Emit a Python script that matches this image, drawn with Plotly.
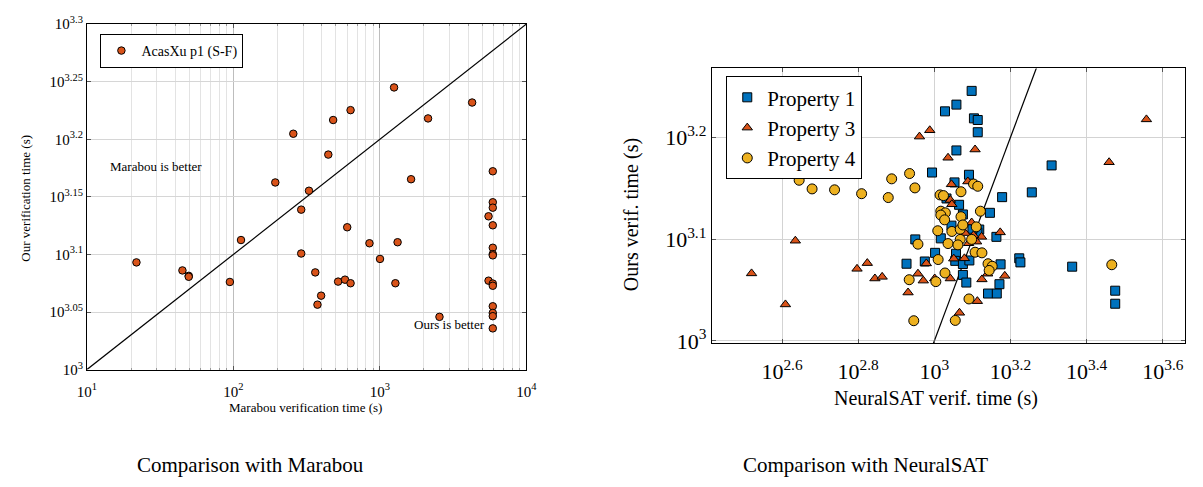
import numpy as np
import plotly.graph_objects as go

# ---------- Data (log10 of seconds) ----------
# Left: Marabou vs ours (AcasXu p1 (S-F))
marabou_log = [1.338, 1.652, 1.695, 1.695, 1.976, 2.052, 2.286, 2.409, 2.463, 2.463,
               2.516, 2.648, 2.681, 2.800, 3.097, 3.329, 3.213, 3.630, 3.771, 3.771,
               3.771, 3.742, 3.771, 2.777, 2.929, 3.121, 3.001, 3.771, 3.771, 3.771,
               2.559, 2.715, 2.762, 2.800, 3.106, 3.742, 3.771, 3.771, 2.599, 2.574,
               3.407, 3.771, 3.771, 3.771, 3.771]
ours_m_log = [3.0931, 3.0861, 3.0814, 3.0806, 3.0761, 3.1125, 3.1625, 3.2048, 3.1389, 3.1008,
              3.1553, 3.1867, 3.2167, 3.2253, 3.2450, 3.2181, 3.1653, 3.2319, 3.1722, 3.1453,
              3.1406, 3.1331, 3.1253, 3.1236, 3.1097, 3.1106, 3.0961, 3.1058, 3.1003, 3.0992,
              3.0844, 3.0764, 3.0781, 3.0750, 3.0750, 3.0772, 3.0747, 3.0728, 3.0642, 3.0564,
              3.0458, 3.0550, 3.0492, 3.0464, 3.0358]

# Right: NeuralSAT vs ours
p1_x = [3.098, 3.058, 3.028, 3.104, 3.114, 3.114, 3.058, 2.994, 3.091, 3.308, 3.256, 3.178,
        3.053, 3.065, 3.032, 3.075, 3.146, 3.045, 3.118, 3.113, 2.950, 3.017, 3.163, 3.100,
        3.002, 3.057, 2.927, 2.975, 3.055, 3.075, 3.092, 3.174, 3.223, 3.226, 3.362, 3.475,
        3.475, 3.075, 3.084, 3.171, 3.141, 3.164]
p1_y = [3.2456, 3.2321, 3.2255, 3.2186, 3.2170, 3.2050, 3.1871, 3.1654, 3.1632, 3.1724, 3.1459, 3.1412,
        3.1557, 3.1337, 3.1399, 3.1242, 3.1258, 3.1132, 3.1094, 3.1063, 3.0997, 3.1007, 3.1022, 3.1101,
        3.0865, 3.0856, 3.0758, 3.0780, 3.0786, 3.0755, 3.0790, 3.0752, 3.0811, 3.0771, 3.0729, 3.0493,
        3.0365, 3.0648, 3.0573, 3.0557, 3.0465, 3.0465]

p3_x = [3.557, 3.459, 2.988, 2.961, 3.107, 3.036, 3.045, 3.088, 3.042, 3.046, 3.098, 3.173,
        3.081, 3.124, 2.635, 2.520, 2.609, 2.797, 2.824, 2.844, 2.863, 3.103, 3.090, 3.111,
        3.051, 3.079, 2.979, 2.957, 2.971, 3.001, 3.042, 2.931, 3.125, 3.140, 3.185, 3.113, 3.066]
p3_y = [3.2176, 3.1755, 3.2069, 3.2007, 3.1880, 3.1799, 3.1538, 3.1566, 3.1384, 3.1342, 3.1163, 3.1066,
        3.1059, 3.1022, 3.0984, 3.0663, 3.0358, 3.0708, 3.0764, 3.0613, 3.0629, 3.1038, 3.0959, 3.0975,
        3.0808, 3.0811, 3.0761, 3.0660, 3.0592, 3.0613, 3.0613, 3.0475, 3.0604, 3.0660, 3.0639, 3.0390, 3.0276]

p4_x = [2.645, 2.679, 2.738, 2.809, 2.888, 2.935, 2.949, 2.879, 3.015, 3.024, 3.070, 3.103,
        3.114, 3.121, 3.017, 3.029, 3.017, 3.027, 3.070, 3.009, 3.046, 3.068, 3.075, 3.110,
        3.098, 3.068, 2.957, 3.036, 3.062, 3.107, 3.125, 3.010, 3.028, 2.934, 3.004, 3.141,
        3.152, 3.144, 3.091, 2.946, 3.055, 3.466]
p4_y = [3.1578, 3.1493, 3.1484, 3.1446, 3.1592, 3.1644, 3.1503, 3.1408, 3.1434, 3.1427, 3.1465, 3.1541,
        3.1519, 3.1274, 3.1274, 3.1258, 3.1236, 3.1189, 3.1220, 3.1082, 3.1075, 3.1097, 3.1139, 3.1120,
        3.0997, 3.0997, 3.0950, 3.0956, 3.0943, 3.0871, 3.0865, 3.0799, 3.0667, 3.0601, 3.0582, 3.0758,
        3.0733, 3.0692, 3.0412, 3.0198, 3.0201, 3.0748]

left_xticks = [1, 2, 3, 4]
left_yticks = [3.0, 3.05, 3.1, 3.15, 3.2, 3.25, 3.3]
right_xticks = [2.6, 2.8, 3.0, 3.2, 3.4, 3.6]
right_yticks = [3.0, 3.1, 3.2]

def lbl(v):
    s = ("%.2f" % v).rstrip("0").rstrip(".")
    return "10<sup>" + s + "</sup>"

W, H = 1203, 487
FONT = "Liberation Serif"
ORANGE = "#D95319"
BLUE = "#0072BD"
YELLOW = "#EDB120"

def px(x):
    return x / W

def py(y):
    return 1 - y / H

p = lambda a: 10 ** np.array(a, dtype=float)

fig = go.Figure()

# left diagonal (corner to corner)
fig.add_trace(go.Scatter(x=p([1, 4]), y=p([3.0, 3.3]), mode="lines",
                         line=dict(color="black", width=1.2), showlegend=False,
                         xaxis="x", yaxis="y", hoverinfo="skip"))
fig.add_trace(go.Scatter(x=p(marabou_log), y=p(ours_m_log), mode="markers",
                         name="AcasXu p1 (S-F)",
                         marker=dict(symbol="circle", size=7.5, color=ORANGE,
                                     line=dict(color="black", width=1)),
                         xaxis="x", yaxis="y", legend="legend"))

# right diagonal y = x
fig.add_trace(go.Scatter(x=p([2.3, 3.8]), y=p([2.3, 3.8]), mode="lines",
                         line=dict(color="black", width=1.2), showlegend=False,
                         xaxis="x2", yaxis="y2", hoverinfo="skip"))
fig.add_trace(go.Scatter(x=p(p1_x), y=p(p1_y), mode="markers", name="Property 1",
                         marker=dict(symbol="square", size=9, color=BLUE,
                                     line=dict(color="black", width=1)),
                         xaxis="x2", yaxis="y2", legend="legend2"))
fig.add_trace(go.Scatter(x=p(p3_x), y=p(p3_y), mode="markers", name="Property 3",
                         marker=dict(symbol="triangle-up", size=9, color=ORANGE,
                                     line=dict(color="black", width=1)),
                         xaxis="x2", yaxis="y2", legend="legend2"))
fig.add_trace(go.Scatter(x=p(p4_x), y=p(p4_y), mode="markers", name="Property 4",
                         marker=dict(symbol="circle", size=10, color=YELLOW,
                                     line=dict(color="black", width=1)),
                         xaxis="x2", yaxis="y2", legend="legend2"))

common = dict(showline=True, linecolor="black", linewidth=1, mirror="allticks",
              ticks="inside", ticklen=4, tickcolor="#555", zeroline=False)

def ann(text, x, y, size, angle=0):
    return dict(text=text, x=px(x), y=py(y), xref="paper", yref="paper",
                xanchor="center", yanchor="middle", showarrow=False,
                textangle=angle, font=dict(size=size))

fig.update_layout(
    width=W, height=H, margin=dict(l=0, r=0, t=0, b=0),
    paper_bgcolor="white", plot_bgcolor="white",
    font=dict(family=FONT, color="black"),
    xaxis=dict(type="log", domain=[px(78.3), px(525.5)], range=[1, 4], anchor="y",
               tickvals=p(left_xticks), ticktext=[lbl(v) for v in left_xticks],
               tickfont=dict(size=15), ticklabelstandoff=8,
               showgrid=True, gridcolor="#bdbdbd", gridwidth=1,
               minor=dict(dtick="D1", showgrid=True, gridcolor="#e3e3e3", ticks="inside",
                          ticklen=2, tickcolor="#999"),
               **common),
    yaxis=dict(type="log", domain=[py(375), py(14.7)], range=[3, 3.3], anchor="x",
               tickvals=p(left_yticks), ticktext=[lbl(v) for v in left_yticks],
               tickfont=dict(size=15), showgrid=True, gridcolor="#d6d6d6",
               **common),
    xaxis2=dict(type="log", domain=[px(714.3), px(1196)], range=[2.4157, 3.6586], anchor="y2",
                tickvals=p(right_xticks), ticktext=[lbl(v) for v in right_xticks],
                tickfont=dict(size=22), ticklabelstandoff=8,
                showgrid=True, gridcolor="#d3d3d3",
                **common),
    yaxis2=dict(type="log", domain=[py(347.7), py(61)], range=[2.9975, 3.2676], anchor="x2",
                tickvals=p(right_yticks), ticktext=[lbl(v) for v in right_yticks],
                tickfont=dict(size=22), showgrid=True, gridcolor="#d3d3d3",
                **common),
    legend=dict(x=px(92), y=py(25), xanchor="left", yanchor="top",
                bordercolor="black", borderwidth=1, bgcolor="white",
                font=dict(size=14), itemwidth=30, tracegroupgap=0),
    legend2=dict(x=px(729), y=py(69), xanchor="left", yanchor="top",
                 bordercolor="black", borderwidth=1, bgcolor="white",
                 font=dict(size=21), itemwidth=30, tracegroupgap=0),
    annotations=[
        ann("Marabou verification time (s)", 301, 415, 13),
        ann("Our verification time (s)", 16, 196, 13, -90),
        ann("NeuralSAT verif. time (s)", 942, 405, 20),
        ann("Ours verif. time (s)", 632, 213, 20, -90),
        ann("Marabou is better", 149, 163, 13),
        ann("Ours is better", 447, 328, 13),
        ann("Comparison with Marabou", 245, 474, 21),
        ann("Comparison with NeuralSAT", 871, 474, 21),
    ],
)

fig.write_html("out.html")
